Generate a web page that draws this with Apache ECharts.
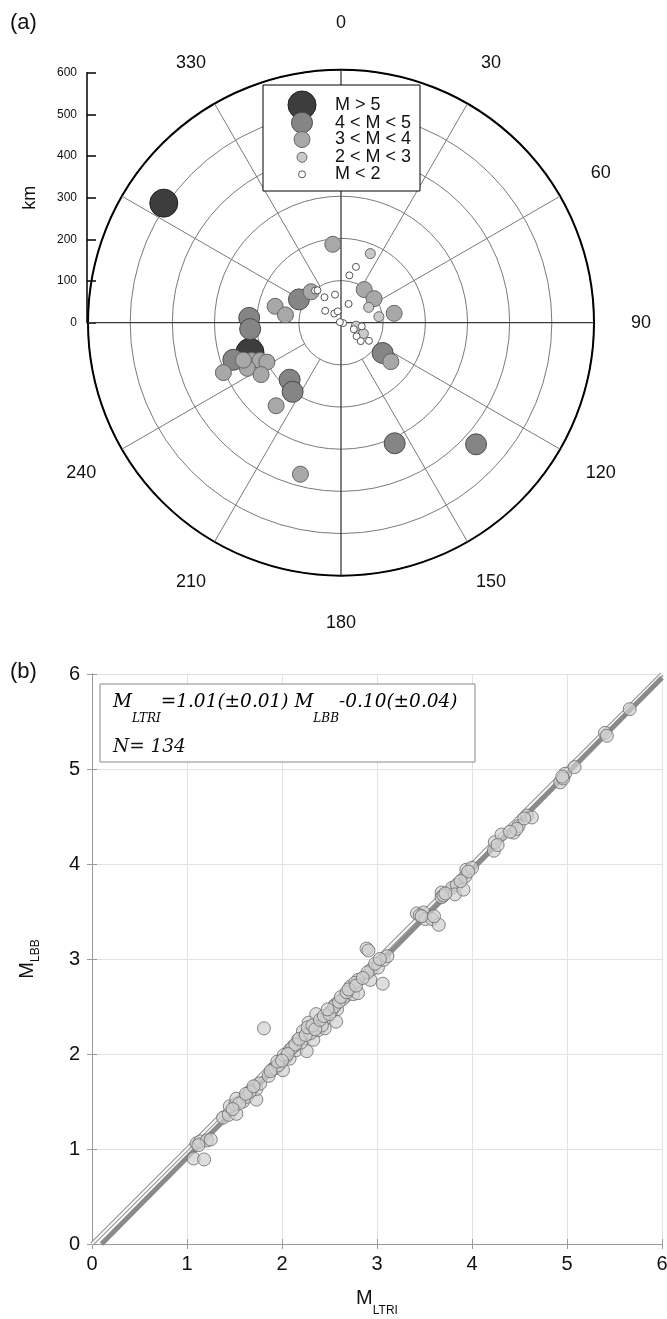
<!DOCTYPE html>
<html><head><meta charset="utf-8">
<script src="https://cdn.jsdelivr.net/npm/echarts@6/dist/echarts.min.js"></script>
<style>html,body{margin:0;padding:0;background:#fff}#c{width:667px;height:1319px}</style>
</head><body><div id="c"></div>
<script>
// ---------- Panel (a) data: [distance km, azimuth deg] ----------
const evM5  = [[507,304],[227,252]];
const evM45 = [[114,299],[218,273],[216,266],[270,251],[182,222],[200,215],[122,126],[313,156],[431,132]];
const evM34 = [[187,354],[96,35],[97,54],[128,80],[150,128],[102,316],[161,284],[133,278],[303,247],[230,247],[212,245],[199,242],[247,244],[226,237],[248,249],[250,218],[372,195]];
const evM23 = [[178,23],[75,61],[91,81],[59,116],[37,103]];
const evM2  = [[137,15],[114,10],[48,22],[68,348],[72,327],[47,307],[27,324],[28,344],[5,100],[3,300],[50,100],[34,117],[49,131],[64,133],[79,123],[98,321],[95,324]];
const magClasses = ['M > 5','4 < M < 5','3 < M < 4','2 < M < 3','M < 2'];
const spokeAngles = [30,60,120,150,210,240,300,330];
const angleLabels = [0,30,60,90,120,150,180,210,240,330];
const kmMax = 600, kmStep = 100;

// ---------- Panel (b) data ----------
const mLTRI = [1.07,1.18,1.10,1.14,1.21,1.25,1.38,1.44,1.52,1.45,1.51,1.52,1.59,1.63,1.73,1.68,1.73,1.77,1.66,1.81,
1.86,1.90,1.93,1.98,2.01,1.96,2.08,2.04,2.08,2.15,2.12,2.26,2.17,2.24,2.22,2.20,2.33,2.38,2.30,2.28,
2.36,2.47,2.45,2.42,2.57,2.58,2.56,2.52,2.67,2.64,2.72,2.75,2.80,2.80,2.77,2.93,2.94,3.01,2.90,3.07,
3.11,3.06,2.89,2.91,3.42,3.49,3.45,3.51,3.58,3.65,3.68,3.68,3.70,3.79,3.84,3.82,3.91,3.93,3.94,4.00,
3.96,4.23,4.24,4.31,4.44,4.49,4.47,4.58,4.63,4.55,4.93,4.98,4.96,5.08,5.40,5.42,5.66,1.55,1.62,1.70,
1.88,1.95,2.02,2.10,2.14,2.18,2.25,2.27,2.32,2.35,2.40,2.44,2.50,2.55,2.60,2.62,2.68,2.70,2.78,2.85,
2.98,3.03,1.12,1.48,2.06,3.47,3.72,3.88,4.27,4.40,4.95,2.00,2.48,3.60];
const mLBB = [0.90,0.89,1.06,1.08,1.09,1.10,1.33,1.36,1.37,1.45,1.47,1.53,1.50,1.55,1.52,1.62,1.63,1.69,1.60,2.27,
1.77,1.84,1.85,1.90,1.83,1.88,1.95,1.97,2.04,2.04,2.08,2.03,2.15,2.17,2.24,2.12,2.15,2.25,2.22,2.33,
2.42,2.38,2.27,2.30,2.34,2.47,2.52,2.45,2.61,2.58,2.71,2.63,2.78,2.64,2.75,2.78,2.89,2.91,2.86,2.99,
3.03,2.74,3.11,3.09,3.48,3.49,3.46,3.42,3.42,3.36,3.70,3.65,3.67,3.75,3.78,3.68,3.73,3.87,3.94,3.96,
3.92,4.14,4.23,4.31,4.33,4.40,4.37,4.51,4.49,4.48,4.86,4.95,4.90,5.02,5.38,5.35,5.63,1.48,1.58,1.66,
1.82,1.92,1.99,2.06,2.10,2.16,2.20,2.28,2.30,2.26,2.36,2.40,2.42,2.50,2.55,2.60,2.65,2.68,2.72,2.80,
2.95,3.00,1.04,1.42,2.00,3.45,3.69,3.82,4.20,4.34,4.92,1.93,2.47,3.45];
const fitLine = [[0.10,0],[6,5.96]];
const oneToOne = [[0,0],[6,6]];
const eqParts = ['M','LTRI','=1.01(±0.01) M','LBB','-0.10(±0.04)'];
const nText = 'N= 134';

const SANS = 'Liberation Sans, Arial, sans-serif';
const SERIF = 'DejaVu Serif, serif';

// layout constants
const POLAR_R = 253;           // px radius of the 600 km circle
const LABEL_R_PX = 300;        // px radius where angle labels are centred
const labelRadiusKm = kmMax * LABEL_R_PX / POLAR_R;

const chart = echarts.init(document.getElementById('c'), null, {renderer:'canvas'});

const magStyles = [
  {size:28, color:'#3d3d3d', border:'#1e1e1e'},
  {size:21, color:'#858585', border:'#4a4a4a'},
  {size:16, color:'#a8a8a8', border:'#666'},
  {size:10, color:'#c9c9c9', border:'#666'},
  {size:7,  color:'#ffffff', border:'#555'}
];
const magData = [evM5, evM45, evM34, evM23, evM2];

const series = [];
spokeAngles.forEach(a => series.push({
  type:'line', coordinateSystem:'polar', polarIndex:0, silent:true, symbol:'none', z:1,
  data:[[kmStep,a],[kmMax,a]], lineStyle:{color:'#7a7a7a', width:1}
}));
[[0,180],[90,270]].forEach(p => series.push({
  type:'line', coordinateSystem:'polar', polarIndex:0, silent:true, symbol:'none', z:1,
  data:[[kmMax,p[0]],[0,p[0]],[kmMax,p[1]]], lineStyle:{color:'#3a3a3a', width:1.3}
}));
// angle labels, centred on a circle outside the plot
series.push({
  type:'scatter', coordinateSystem:'polar', polarIndex:0, silent:true, clip:false, z:5,
  symbol:'circle', symbolSize:1, data:angleLabels.map(a=>[labelRadiusKm,a]),
  itemStyle:{color:'rgba(0,0,0,0)', borderWidth:0},
  label:{show:true, position:'inside', opacity:1, formatter:p=>String(p.value[1]),
    fontSize:18, fontFamily:SANS, color:'#111'}
});
magData.forEach((d,i) => series.push({
  type:'scatter', coordinateSystem:'polar', polarIndex:0, name:magClasses[i], z:3+i,
  symbolSize:magStyles[i].size, data:d.map(v=>[v[0],v[1]]),
  itemStyle:{color:magStyles[i].color, borderColor:magStyles[i].border, borderWidth:1, opacity:1}
}));
// panel b lines
series.push({type:'line', xAxisIndex:1, yAxisIndex:1, data:oneToOne, symbol:'none', silent:true, z:2,
  lineStyle:{color:'#9a9a9a', width:4.5}});
series.push({type:'line', xAxisIndex:1, yAxisIndex:1, data:oneToOne, symbol:'none', silent:true, z:2,
  lineStyle:{color:'#ffffff', width:1.8}});
series.push({type:'line', xAxisIndex:1, yAxisIndex:1, data:fitLine, symbol:'none', silent:true, z:3,
  lineStyle:{color:'#8a8a8a', width:5}});
series.push({type:'scatter', xAxisIndex:1, yAxisIndex:1, z:4, symbolSize:13,
  data:mLTRI.map((x,i)=>[x,mLBB[i]]),
  itemStyle:{color:'rgba(208,208,208,0.88)', borderColor:'#6a6a6a', borderWidth:1}});

// legend graphic for panel (a)
const legY = [105,122.7,139.5,157.3,174.3];
const legendGraphics = [{type:'rect', shape:{x:263,y:85,width:157,height:106},
  style:{fill:'#fff', stroke:'#000', lineWidth:1}, z:100}];
magStyles.forEach((s,i)=>{
  legendGraphics.push({type:'circle', shape:{cx:302, cy:legY[i], r:s.size/2},
    style:{fill:s.color, stroke:s.border, lineWidth:1}, z:101});
  legendGraphics.push({type:'text', x:335, y:legY[i], z:102,
    style:{text:magClasses[i], font:'18px '+SANS, fill:'#111', verticalAlign:'middle', align:'left'}});
});

const eqRich = {
  a:{fontFamily:SERIF, fontStyle:'italic', fontSize:18.5, color:'#111', lineHeight:46},
  s:{fontFamily:SERIF, fontStyle:'italic', fontSize:12, color:'#111', lineHeight:46, verticalAlign:'bottom'}
};

const option = {
  animation:false,
  backgroundColor:'#fff',
  polar:{center:[341,322.7], radius:POLAR_R},
  angleAxis:{type:'value', min:0, max:360, interval:30, startAngle:90, clockwise:true,
    axisLine:{lineStyle:{color:'#000', width:2}}, axisTick:{show:false}, splitLine:{show:false},
    axisLabel:{show:false}},
  radiusAxis:{type:'value', min:0, max:kmMax, interval:kmStep,
    axisLine:{show:false}, axisTick:{show:false}, axisLabel:{show:false},
    splitLine:{show:true, lineStyle:{color:'#7a7a7a', width:1}}},
  grid:[
    {left:87, top:72.7, width:20, height:250, outerBoundsMode:'none', containLabel:false},
    {left:92, top:674, width:570, height:570, outerBoundsMode:'none', containLabel:false}
  ],
  xAxis:[
    {gridIndex:0, type:'value', min:0, max:1, show:false},
    {gridIndex:1, type:'value', min:0, max:6, interval:1, position:'bottom',
      axisLine:{show:true, lineStyle:{color:'#9a9a9a', width:1}},
      axisTick:{show:true, inside:true, length:5, lineStyle:{color:'#9a9a9a'}},
      axisLabel:{fontSize:20, fontFamily:SANS, color:'#111', margin:10},
      splitLine:{show:true, lineStyle:{color:'#e2e2e2', width:1}},
      name:'{m|M}{s|LTRI}', nameLocation:'middle', nameGap:35,
      nameTextStyle:{rich:{m:{fontSize:20, fontFamily:SANS, color:'#111', lineHeight:38},
        s:{fontSize:12, fontFamily:SANS, color:'#111', lineHeight:38, verticalAlign:'bottom'}}}},
    {gridIndex:1, type:'value', min:0, max:6, interval:1, position:'top',
      axisLine:{show:true, lineStyle:{color:'#9a9a9a', width:1}},
      axisTick:{show:true, inside:true, length:5, lineStyle:{color:'#9a9a9a'}},
      axisLabel:{show:false}, splitLine:{show:false}}
  ],
  yAxis:[
    {gridIndex:0, type:'value', min:0, max:kmMax, interval:kmStep, position:'left',
      axisLine:{show:true, lineStyle:{color:'#000', width:1.5}},
      axisTick:{show:true, inside:true, length:9, lineStyle:{color:'#000', width:1.5}},
      axisLabel:{fontSize:12, fontFamily:SANS, color:'#111', margin:10},
      splitLine:{show:false},
      name:'km', nameLocation:'middle', nameRotate:90, nameGap:48,
      nameTextStyle:{fontSize:18, fontFamily:SANS, color:'#111'}},
    {gridIndex:1, type:'value', min:0, max:6, interval:1, position:'left',
      axisLine:{show:true, lineStyle:{color:'#9a9a9a', width:1}},
      axisTick:{show:true, inside:true, length:5, lineStyle:{color:'#9a9a9a'}},
      axisLabel:{fontSize:20, fontFamily:SANS, color:'#111', margin:12},
      splitLine:{show:true, lineStyle:{color:'#e2e2e2', width:1}},
      name:'{m|M}{s|LBB}', nameLocation:'middle', nameRotate:90, nameGap:50,
      nameTextStyle:{rich:{m:{fontSize:20, fontFamily:SANS, color:'#111', lineHeight:30},
        s:{fontSize:12, fontFamily:SANS, color:'#111', lineHeight:30, verticalAlign:'bottom'}}}},
    {gridIndex:1, type:'value', min:0, max:6, interval:1, position:'right',
      axisLine:{show:true, lineStyle:{color:'#9a9a9a', width:1}},
      axisTick:{show:true, inside:true, length:5, lineStyle:{color:'#9a9a9a'}},
      axisLabel:{show:false}, splitLine:{show:false}}
  ],
  series:series,
  graphic:[
    {type:'text', x:10, y:23, style:{text:'(a)', font:'22px '+SANS, fill:'#111', verticalAlign:'middle'}},
    {type:'text', x:10, y:672, style:{text:'(b)', font:'22px '+SANS, fill:'#111', verticalAlign:'middle'}},
    ...legendGraphics,
    {type:'rect', shape:{x:100,y:684,width:375,height:78}, style:{fill:'#fff', stroke:'#8a8a8a', lineWidth:1}, z:100},
    {type:'text', x:113, y:679, z:101, style:{
      text:'{a|'+eqParts[0]+'}{s|'+eqParts[1]+'}{a|'+eqParts[2]+'}{s|'+eqParts[3]+'}{a|'+eqParts[4]+'}',
      rich:eqRich, verticalAlign:'top', align:'left'}},
    {type:'text', x:113, y:747, z:101, style:{text:nText, fontFamily:SERIF, fontStyle:'italic', fontSize:18.5, fill:'#111', verticalAlign:'middle'}}
  ]
};
chart.setOption(option);
</script></body></html>
